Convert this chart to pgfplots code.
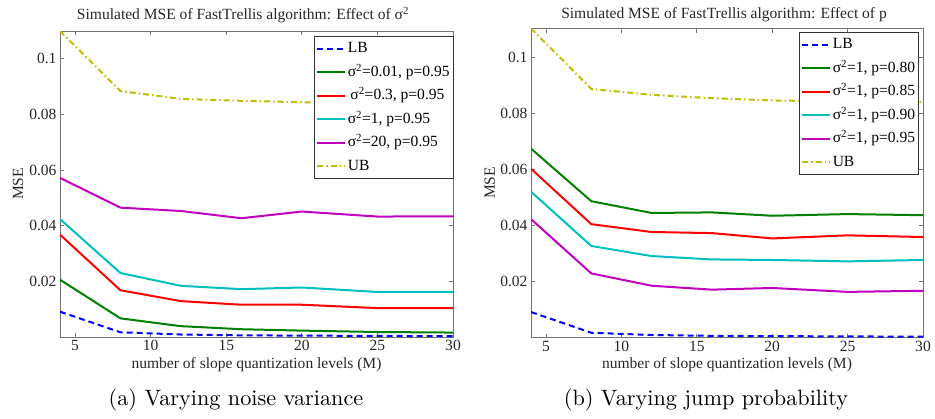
\documentclass[border=0pt]{standalone}
\usepackage{fontspec}
\usepackage{pgfplots}
\usepackage{pgfplotstable}
\pgfplotsset{compat=1.18}
\newfontfamily\mfont{Liberation Serif}
\newfontfamily\capfont{lmroman10-regular.otf}
\newcommand\mf{\mfont\fontsize{15.6}{18}\selectfont}
\definecolor{mgreen}{rgb}{0,0.5,0}
\definecolor{mcyan}{rgb}{0,0.75,0.75}
\definecolor{mmag}{rgb}{0.75,0,0.75}
\definecolor{myel}{rgb}{0.75,0.75,0}

\pgfplotstableread{
x LB g r c m UB
4 0.0091 0.0206 0.0368 0.0424 0.0572 0.1100
8 0.0017 0.0067 0.0168 0.0230 0.0465 0.0884
12 0.0009 0.0039 0.0129 0.0184 0.0453 0.0856
16 0.0006 0.0028 0.0116 0.0172 0.0427 0.0849
20 0.0005 0.0023 0.0116 0.0178 0.0451 0.0844
25 0.0004 0.0018 0.0104 0.0162 0.0433 0.0841
30 0.0003 0.0016 0.0104 0.0162 0.0434 0.0838
}\tableA

\pgfplotstableread{
x LB g r c m UB
4 0.0091 0.0675 0.0603 0.0521 0.0423 0.1104
8 0.0017 0.0487 0.0405 0.0327 0.0229 0.0888
12 0.0009 0.0445 0.0377 0.0291 0.0185 0.0867
16 0.0006 0.0447 0.0373 0.0279 0.0171 0.0855
20 0.0005 0.0435 0.0354 0.0277 0.0177 0.0847
25 0.0004 0.0441 0.0365 0.0272 0.0163 0.0843
30 0.0003 0.0437 0.0359 0.0277 0.0167 0.0841
}\tableB

\pgfplotsset{
 mystyle/.style={
  scale only axis,
  xmin=4, xmax=30, ymin=0,
  xtick={5,10,15,20,25,30},
  xticklabels={5,10,15,20,25,30},
  ytick={0.02,0.04,0.06,0.08,0.1},
  yticklabels={0.02,0.04,0.06,0.08,0.1},
  tick align=inside,
  major tick length=4bp,
  axis line style={black!55, line width=0.8bp},
  every tick/.style={black!55, line width=0.8bp},
  tick label style={font=\mf, text=black!85},
  label style={font=\mf, text=black!85},
  xlabel={number of slope quantization levels (M)},
  ylabel={MSE},
  legend cell align=left,
  legend style={draw=black!80, line width=0.8bp, fill=white, font=\mf,
    inner xsep=2bp, inner ysep=2bp, row sep=3bp,
    nodes={inner xsep=1.5bp, inner ysep=2.5bp, text height=12bp, text depth=3.5bp}},
  legend image code/.code={\draw[#1] (0bp,0bp) -- (28bp,0bp);},
  every axis plot/.append style={line width=2bp},
 },
 lbs/.style={blue, dash pattern=on 6bp off 4bp},
 ubs/.style={myel, dash pattern=on 6bp off 3bp on 1.5bp off 3bp},
}

\begin{document}
\begin{tikzpicture}[x=1bp,y=1bp]
\useasboundingbox (0,0) rectangle (935,-418);

\begin{axis}[mystyle,
  at={(60bp,-337bp)}, anchor=south west,
  width=393bp, height=306bp, ymax=0.11,
  xlabel style={at={(axis description cs:0.5,-0.0915)}, anchor=center},
  ylabel style={at={(axis description cs:-0.107,0.5)}, anchor=center},
  legend style={at={(axis description cs:1.0013,0.9837)}, anchor=north east},
]
\addplot[lbs] table[x=x,y=LB] {\tableA};
\addlegendentry{LB}
\addplot[mgreen] table[x=x,y=g] {\tableA};
\addlegendentry{σ\textsuperscript{2}=0.01, p=0.95}
\addplot[red] table[x=x,y=r] {\tableA};
\addlegendentry{\,σ\textsuperscript{2}=0.3, p=0.95}
\addplot[mcyan] table[x=x,y=c] {\tableA};
\addlegendentry{σ\textsuperscript{2}=1, p=0.95}
\addplot[mmag] table[x=x,y=m] {\tableA};
\addlegendentry{σ\textsuperscript{2}=20, p=0.95}
\addplot[ubs] table[x=x,y=UB] {\tableA};
\addlegendentry{UB}
\end{axis}

\begin{axis}[mystyle,
  at={(531bp,-337.5bp)}, anchor=south west,
  width=392bp, height=309bp, ymax=0.1104,
  xlabel style={at={(axis description cs:0.5,-0.089)}, anchor=center},
  ylabel style={at={(axis description cs:-0.105,0.5)}, anchor=center},
  legend style={at={(axis description cs:0.9898,0.9887)}, anchor=north east},
]
\addplot[lbs] table[x=x,y=LB] {\tableB};
\addlegendentry{LB}
\addplot[mgreen] table[x=x,y=g] {\tableB};
\addlegendentry{σ\textsuperscript{2}=1, p=0.80}
\addplot[red] table[x=x,y=r] {\tableB};
\addlegendentry{σ\textsuperscript{2}=1, p=0.85}
\addplot[mcyan] table[x=x,y=c] {\tableB};
\addlegendentry{σ\textsuperscript{2}=1, p=0.90}
\addplot[mmag] table[x=x,y=m] {\tableB};
\addlegendentry{σ\textsuperscript{2}=1, p=0.95}
\addplot[ubs] table[x=x,y=UB] {\tableB};
\addlegendentry{UB}
\end{axis}

\node[font=\mf, text=black!85] at (243,-15) {Simulated MSE of FastTrellis algorithm: Effect of σ\textsuperscript{2}};
\node[font=\mf, text=black!85] at (724,-15) {Simulated MSE of FastTrellis algorithm: Effect of p};
\node[font=\capfont\fontsize{22.3}{26}\selectfont] at (236,-400) {(a) Varying noise variance};
\node[font=\capfont\fontsize{22.3}{26}\selectfont] at (706,-400) {(b) Varying jump probability};
\end{tikzpicture}
\end{document}
